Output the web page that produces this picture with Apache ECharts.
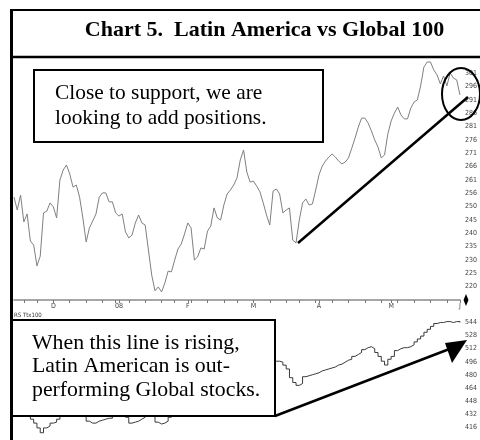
<!DOCTYPE html>
<html><head><meta charset="utf-8">
<script src="https://cdn.jsdelivr.net/npm/echarts/dist/echarts.min.js"></script>
<style>html,body{margin:0;padding:0;background:#fff}#c{width:480px;height:440px}</style>
</head><body><div id="c"></div>
<script>
// Latin America index (upper panel), one value per trading day 2007-11-14 .. 2008-06-02
const latamIndex = [254.0,249.1,254.8,244.6,247.6,237.3,235.8,227.9,231.6,248.0,
248.7,251.8,250.3,246.1,260.5,264.3,266.2,262.8,257.8,258.6,
254.0,246.1,237.0,242.3,244.9,247.6,254.0,255.6,255.6,252.2,
252.2,248.0,246.8,247.6,240.8,238.5,239.6,244.2,247.2,244.2,
243.4,233.9,224.4,218.4,219.9,218.0,221.4,225.9,225.6,230.1,
234.3,236.2,240.0,244.2,242.3,230.1,231.3,234.7,234.3,241.1,
243.0,249.9,246.1,245.3,251.0,255.2,256.7,258.6,261.3,268.1,
271.9,263.5,259.7,260.1,258.2,256.0,251.8,247.2,243.4,256.3,
257.1,255.2,248.0,249.1,249.9,237.7,236.6,245.3,251.8,253.3,
251.0,251.4,256.7,262.4,265.8,267.7,269.2,270.4,269.2,267.7,
266.6,267.3,268.9,272.6,276.4,280.6,284.0,284.0,282.1,279.1,
275.7,273.0,268.9,270.0,278.0,282.9,285.9,288.2,285.2,283.7,
283.7,287.8,290.1,290.9,296.2,303.4,305.3,305.3,302.3,300.4,
297.0,300.0,296.2,301.1,299.2,298.5,292.8];
// Relative strength vs Global 100 (lower panel)
const relStrength = [440,438,436,434,430.2,425.5,420.7,414.8,408.9,414.8,
417.2,420.7,421.9,425.5,430.2,436,440,442,440,438,
434,429.0,423.1,420.7,420.7,423.1,424.3,425.5,426.7,426.7,
430.2,436,438,434,427.9,420.7,421.9,423.1,425.5,427.9,
431.4,434,429.0,421.9,419.6,420.7,423.1,427.9,434,440,
446,452,455,458,461,463,466,468,470,472,
474,475,477,480,484,488,490,494,497,500,
502,502,503,502,503,502,497,492,494,496.6,
496.6,495.4,491.8,487.1,476.4,470.5,467,469.3,477.6,478.8,
480,481.2,482.4,484.7,485.9,487.1,488.3,489.5,491.9,493,
495.4,497.8,499,502.5,504.9,507.3,510.8,513.2,514.4,512,
507.3,502.5,496.6,491.9,499,502.5,509.6,512,513.2,513.2,
514.4,516.7,520.3,523.9,527.4,532.1,535.7,539.3,542.8,544,
544,545.2,545.2,544,545.2,545.2,544];
const upperTickLabels = ['220','225','230','235','240','245','250','256','261','266','271','276','281','286','291','296','301'];
const lowerTickLabels = ['416','432','448','464','480','496','512','528','544'];
const monthLabels = ['D','08','F','M','A','M','J'];
const holidays = ['2007-11-22','2007-12-25','2008-01-01','2008-01-21','2008-02-18','2008-03-21','2008-05-26'];

const categories = [];
(function () {
  let t = Date.UTC(2007, 10, 14);
  const end = Date.UTC(2008, 5, 2);
  while (t <= end) {
    const d = new Date(t);
    const wd = d.getUTCDay();
    const s = d.toISOString().slice(0, 10);
    if (wd !== 0 && wd !== 6 && holidays.indexOf(s) < 0) categories.push(s);
    t += 86400000;
  }
})();
const monthStart = {};
let mi = 0;
for (let i = 1; i < categories.length; i++) {
  if (categories[i].slice(5, 7) !== categories[i - 1].slice(5, 7)) monthStart[i] = monthLabels[mi++];
}
function weekStart(i) {
  if (i === 0) return false;
  const a = new Date(categories[i] + 'T00:00:00Z').getUTCDay();
  const b = new Date(categories[i - 1] + 'T00:00:00Z').getUTCDay();
  return a < b;
}

const UMIN = 214.9375, UINT = 5.0625;
const chart = echarts.init(document.getElementById('c'), null, { renderer: 'canvas' });
const axisFont = 'DejaVu Sans Condensed';
chart.setOption({
  animation: false,
  backgroundColor: '#fff',
  grid: [
    { left: 14, right: 15, top: 60, height: 240 },
    { left: 14, right: 15, top: 309.5, height: 135 }
  ],
  xAxis: [
    {
      type: 'category', gridIndex: 0, data: categories, boundaryGap: false,
      axisLine: { show: true, lineStyle: { color: '#8a8a8a', width: 1.5 } },
      axisTick: { show: true, length: 3, lineStyle: { color: '#777' },
        interval: function (i) { return weekStart(i) || monthStart[i] !== undefined; } },
      axisLabel: { show: true, margin: 3, fontSize: 7, color: '#444', fontFamily: axisFont,
        interval: function (i) { return monthStart[i] !== undefined; },
        formatter: function (v, i) { return monthStart[i] || ''; } },
      splitLine: { show: false }
    },
    {
      type: 'category', gridIndex: 1, data: categories, boundaryGap: false,
      axisLine: { show: false }, axisTick: { show: false }, axisLabel: { show: false }, splitLine: { show: false }
    }
  ],
  yAxis: [
    {
      type: 'value', gridIndex: 0, position: 'right', min: UMIN, max: UMIN + 18 * UINT, interval: UINT,
      axisLine: { show: false }, axisTick: { show: false }, splitLine: { show: false },
      axisLabel: { margin: 5, fontSize: 7, color: '#444', fontFamily: axisFont,
        formatter: function (v) { const k = Math.round((v - UMIN) / UINT); return upperTickLabels[k - 1] || ''; } }
    },
    {
      type: 'value', gridIndex: 1, position: 'right', min: 400, max: 560, interval: 16,
      axisLine: { show: false }, axisTick: { show: false }, splitLine: { show: false },
      axisLabel: { margin: 5, fontSize: 7, color: '#444', fontFamily: axisFont,
        formatter: function (v) { const k = Math.round((v - 416) / 16); return lowerTickLabels[k] || ''; } }
    }
  ],
  series: [
    { type: 'line', xAxisIndex: 0, yAxisIndex: 0, data: latamIndex, showSymbol: false,
      lineStyle: { color: '#808080', width: 1 } },
    { type: 'line', xAxisIndex: 1, yAxisIndex: 1, data: relStrength, showSymbol: false, step: 'end',
      lineStyle: { color: '#3a3a3a', width: 1 } }
  ],
  graphic: [
    { type: 'line', z: 100, shape: { x1: 11, y1: 10, x2: 480, y2: 10 }, style: { stroke: '#000', lineWidth: 2 } },
    { type: 'line', z: 100, shape: { x1: 11.5, y1: 9, x2: 11.5, y2: 440 }, style: { stroke: '#000', lineWidth: 3 } },
    { type: 'line', z: 100, shape: { x1: 11, y1: 57, x2: 480, y2: 57 }, style: { stroke: '#000', lineWidth: 2.5 } },
    { type: 'text', z: 100, x: 264.5, y: 30, style: { text: 'Chart 5.  Latin America vs Global 100', fontFamily: 'Liberation Serif', fontWeight: 'bold', fontSize: 22, fill: '#000', align: 'center', verticalAlign: 'middle' } },
    { type: 'rect', z: 100, shape: { x: 34, y: 70, width: 289, height: 72 }, style: { fill: '#fff', stroke: '#000', lineWidth: 2 } },
    { type: 'text', z: 101, x: 55, y: 93, style: { text: 'Close to support, we are', fontFamily: 'Liberation Serif', fontSize: 21.4, fill: '#000', align: 'left', verticalAlign: 'middle' } },
    { type: 'text', z: 101, x: 55, y: 118.5, style: { text: 'looking to add positions.', fontFamily: 'Liberation Serif', fontSize: 21.4, fill: '#000', align: 'left', verticalAlign: 'middle' } },
    { type: 'line', z: 100, shape: { x1: 298, y1: 243, x2: 468, y2: 97 }, style: { stroke: '#000', lineWidth: 2.5 } },
    { type: 'ellipse', z: 100, shape: { cx: 461, cy: 94, rx: 19, ry: 26 }, style: { fill: 'none', stroke: '#000', lineWidth: 2 } },
    { type: 'rect', z: 100, shape: { x: 12, y: 320, width: 263, height: 96 }, style: { fill: '#fff', stroke: '#000', lineWidth: 2 } },
    { type: 'text', z: 101, x: 32, y: 343, style: { text: 'When this line is rising,', fontFamily: 'Liberation Serif', fontSize: 21.8, fill: '#000', align: 'left', verticalAlign: 'middle' } },
    { type: 'text', z: 101, x: 32, y: 366.5, style: { text: 'Latin American is out-', fontFamily: 'Liberation Serif', fontSize: 21.8, fill: '#000', align: 'left', verticalAlign: 'middle' } },
    { type: 'text', z: 101, x: 32, y: 390, style: { text: 'performing Global stocks.', fontFamily: 'Liberation Serif', fontSize: 21.8, fill: '#000', align: 'left', verticalAlign: 'middle' } },
    { type: 'line', z: 100, shape: { x1: 275, y1: 416, x2: 452, y2: 348 }, style: { stroke: '#000', lineWidth: 2.5 } },
    { type: 'polygon', z: 100, shape: { points: [[467, 340], [445, 343], [452, 363]] }, style: { fill: '#000' } },
    { type: 'text', z: 101, x: 14, y: 315, style: { text: 'RS Ttx100', fontFamily: axisFont, fontSize: 6, fill: '#333', align: 'left', verticalAlign: 'middle' } },
    { type: 'polygon', z: 100, shape: { points: [[466, 294], [468.5, 300], [466, 306], [463.5, 300]] }, style: { fill: '#000' } }
  ]
});
</script>
</body></html>
